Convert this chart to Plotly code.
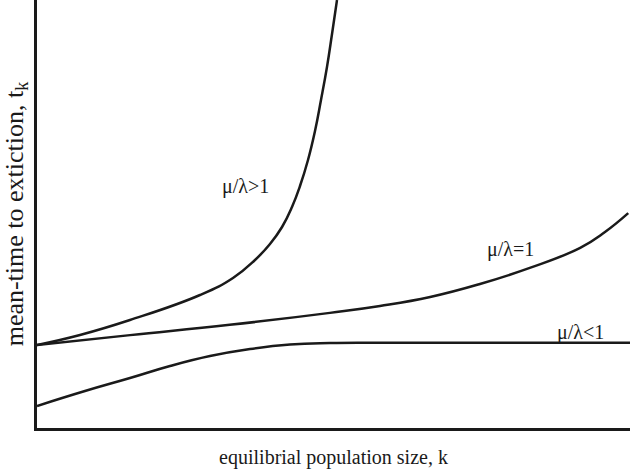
import plotly.graph_objects as go

# Curve data (arbitrary units: x 0-100, y 0-100)
x_gt = [0, 7.25, 15.68, 27.49, 33.05, 36.76, 39.29, 41.32, 43.00, 44.35, 45.70, 46.88, 47.89, 48.90, 49.75, 50.59]
y_gt = [19.39, 21.73, 25.23, 31.07, 35.05, 39.25, 42.99, 46.96, 51.64, 56.54, 62.62, 69.39, 76.64, 84.35, 92.06, 100]

x_eq = [0, 15.7, 32.5, 49.4, 57.84, 66.3, 74.70, 83.1, 91.6, 95.78, 99.7]
y_eq = [19.4, 21.7, 24.1, 26.9, 28.50, 30.6, 33.64, 37.4, 42.1, 45.79, 50.2]

x_lt = [0, 8.09, 15.68, 22.43, 29.17, 35.92, 42.66, 49.41, 60, 75, 90, 100]
y_lt = [5.14, 8.64, 11.68, 14.49, 16.82, 18.46, 19.51, 19.86, 19.9, 19.9, 19.9, 19.9]

labels = ["μ/λ>1", "μ/λ=1", "μ/λ<1"]
label_x = [35.2, 79.9, 91.6]
label_y = [56.5, 41.6, 22.2]

FONT = "Liberation Serif, Times New Roman, serif"

fig = go.Figure()
for xs, ys in [(x_gt, y_gt), (x_eq, y_eq), (x_lt, y_lt)]:
    fig.add_trace(go.Scatter(x=xs, y=ys, mode="lines",
                             line=dict(color="#1a1a1a", width=2.5, shape="spline", smoothing=1.3),
                             showlegend=False, hoverinfo="skip"))

for t, lx, ly in zip(labels, label_x, label_y):
    fig.add_annotation(x=lx, y=ly, text=t, showarrow=False, xref="x", yref="y",
                       font=dict(family=FONT, size=20, color="#1a1a1a"))

fig.update_layout(
    width=630, height=472,
    margin=dict(l=37, r=0, t=0, b=44),
    paper_bgcolor="white", plot_bgcolor="white",
    font=dict(family=FONT, color="#1a1a1a"),
    xaxis=dict(range=[0, 100], showgrid=False, zeroline=False, showticklabels=False,
               ticks="", showline=True, linecolor="#1a1a1a", linewidth=2.5, automargin=False,
               title=dict(text="equilibrial population size, k", font=dict(size=20), standoff=21)),
    yaxis=dict(range=[0, 100], showgrid=False, zeroline=False, showticklabels=False,
               ticks="", showline=True, linecolor="#1a1a1a", linewidth=2.5, automargin=False,
               title=dict(text="mean-time to extiction, t<sub>k</sub>", font=dict(size=26), standoff=4)),
)

fig.write_html("out.html", config={"displayModeBar": False},
               post_script="document.body.style.margin='0';document.body.style.overflow='hidden';")
